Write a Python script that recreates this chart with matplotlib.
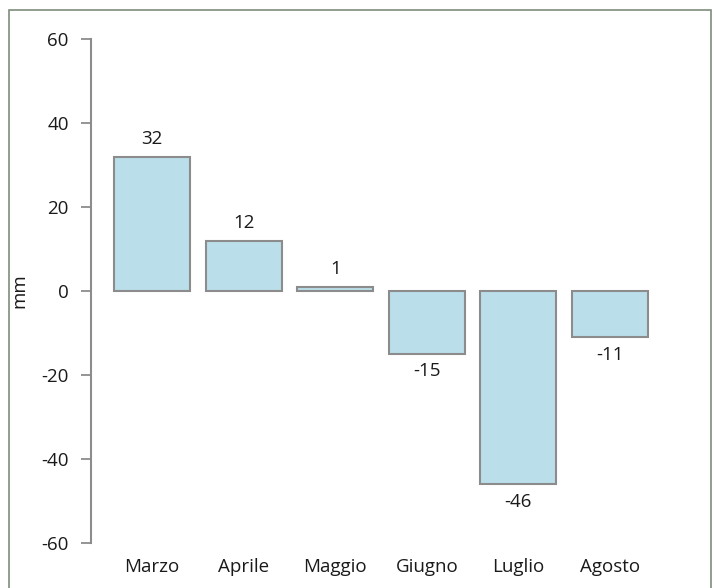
import matplotlib.pyplot as plt
from matplotlib.patches import Rectangle

months = ["Marzo", "Aprile", "Maggio", "Giugno", "Luglio", "Agosto"]
values = [32, 12, 1, -15, -46, -11]
yticks = [-60, -40, -20, 0, 20, 40, 60]

plt.rcParams["font.family"] = ["Open Sans", "DejaVu Sans"]
FS = 13.5

fig = plt.figure(figsize=(7.14, 5.88), dpi=100)
ax = fig.add_axes([91 / 714, 45 / 588, 580 / 714, 504 / 588])

x = range(len(months))
ax.bar(x, values, width=0.83, color="#badeea", edgecolor="#8c8c8c", linewidth=1.5)

for xi, v in zip(x, values):
    if v >= 0:
        ax.annotate(str(v), (xi, v), xytext=(0, 6), textcoords="offset points",
                    ha="center", va="bottom", fontsize=FS, color="#1a1a1a")
    else:
        ax.annotate(str(v), (xi, v), xytext=(0, -6), textcoords="offset points",
                    ha="center", va="top", fontsize=FS, color="#1a1a1a")

ax.set_xlim(-0.666, 5.666)
ax.set_ylim(-60, 60)
ax.set_yticks(yticks)
ax.set_yticklabels([str(t) for t in yticks], fontsize=FS, color="#1a1a1a")
ax.set_xticks(list(x))
ax.set_xticklabels(months, fontsize=FS, color="#1a1a1a")
ax.tick_params(axis="x", length=0, pad=11)
ax.tick_params(axis="y", length=7, width=1.3, color="#8c8c8c", pad=9)

for side in ["top", "right", "bottom"]:
    ax.spines[side].set_visible(False)
ax.spines["left"].set_color("#8c8c8c")
ax.spines["left"].set_linewidth(1.5)

# y axis title, placed in figure coordinates
fig.text(19 / 714, 1 - 291 / 588, "mm", rotation=90, ha="center", va="center",
         fontsize=FS, color="#1a1a1a")

# outer frame, open at the bottom edge
frame = Rectangle((9 / 714, -0.05), 702 / 714, 1.05 - 10 / 588,
                  transform=fig.transFigure, fill=False,
                  edgecolor="#7d8c7b", linewidth=1.2)
fig.patches.append(frame)

fig.savefig("out.png", dpi=100)
